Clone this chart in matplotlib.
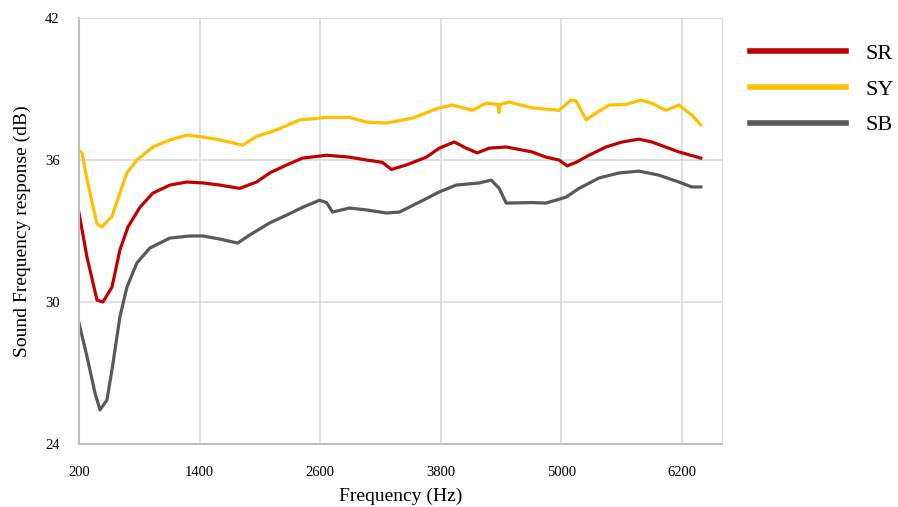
import numpy as np
import matplotlib.pyplot as plt

plt.rcParams['font.family'] = ['Liberation Serif', 'DejaVu Serif']

# frequency (Hz) / level (dB)
sy_f = [200, 230, 279, 330, 379, 428, 478, 528, 558, 607, 677, 776, 935, 1104, 1273, 1432,
        1601, 1829, 1968, 2167, 2395, 2664, 2892, 3061, 3260, 3518, 3786, 3915, 4114, 4253,
        4372, 4382, 4392, 4482, 4710, 4978, 5097, 5147, 5247, 5346, 5475, 5644, 5793, 5902,
        6041, 6171, 6300, 6389]
sy_db = [36.4, 36.3, 35.2, 34.2, 33.3, 33.17, 33.4, 33.6, 34.0, 34.6, 35.45, 36.0, 36.55,
         36.85, 37.05, 36.97, 36.85, 36.63, 37.0, 37.27, 37.69, 37.8, 37.8, 37.6, 37.56,
         37.77, 38.2, 38.32, 38.1, 38.4, 38.35, 38.0, 38.35, 38.45, 38.2, 38.1, 38.53, 38.5,
         37.7, 37.98, 38.32, 38.35, 38.53, 38.4, 38.1, 38.32, 37.9, 37.48]

sr_f = [200, 279, 379, 438, 528, 607, 687, 806, 935, 1104, 1273, 1432, 1601, 1799, 1968,
        2097, 2266, 2425, 2664, 2892, 3061, 3220, 3309, 3458, 3657, 3786, 3935, 4054, 4164,
        4283, 4452, 4710, 4849, 4978, 5058, 5147, 5276, 5445, 5604, 5773, 5902, 6171, 6389]
sr_db = [33.76, 31.9, 30.08, 30.0, 30.63, 32.2, 33.17, 34.0, 34.6, 34.94, 35.07, 35.03,
         34.94, 34.8, 35.07, 35.45, 35.79, 36.08, 36.2, 36.12, 36.0, 35.9, 35.6, 35.79,
         36.12, 36.5, 36.76, 36.5, 36.3, 36.5, 36.55, 36.34, 36.12, 36.0, 35.75, 35.9, 36.2,
         36.55, 36.76, 36.88, 36.76, 36.34, 36.08]

sb_f = [200, 279, 359, 409, 478, 528, 607, 677, 776, 905, 1104, 1303, 1432, 1601, 1779,
        1899, 2097, 2266, 2425, 2594, 2664, 2723, 2892, 3061, 3260, 3389, 3588, 3786, 3955,
        4184, 4303, 4382, 4452, 4710, 4849, 5048, 5177, 5376, 5574, 5773, 5972, 6171, 6300,
        6389]
sb_db = [29.1, 27.7, 26.15, 25.44, 25.86, 27.13, 29.37, 30.63, 31.65, 32.28, 32.7, 32.79,
         32.79, 32.66, 32.49, 32.83, 33.34, 33.67, 34.0, 34.3, 34.2, 33.8, 33.97, 33.89,
         33.76, 33.8, 34.22, 34.65, 34.94, 35.03, 35.15, 34.8, 34.18, 34.2, 34.18, 34.43,
         34.8, 35.24, 35.45, 35.53, 35.36, 35.07, 34.86, 34.86]

x_ticks = [200, 1400, 2600, 3800, 5000, 6200]
y_ticks = [24, 30, 36, 42]

fig = plt.figure(figsize=(8.98, 5.07), dpi=100)
ax = fig.add_axes([0.088, 0.1243, 0.716, 0.8402])

ax.plot(sr_f, sr_db, color='#C00000', lw=2.3, label='SR')
ax.plot(sy_f, sy_db, color='#FFC000', lw=2.3, label='SY')
ax.plot(sb_f, sb_db, color='#595959', lw=2.3, label='SB')

ax.set_xlim(200, 6600)
ax.set_ylim(24, 42)
ax.set_xticks(x_ticks)
ax.set_yticks(y_ticks)
ax.tick_params(length=0, labelsize=10.5, colors='#000000')
ax.tick_params(axis='x', pad=16)
ax.tick_params(axis='y', pad=14)
ax.grid(True, color='#D9D9D9', lw=1.2)
ax.set_axisbelow(True)
for s in ax.spines.values():
    s.set_color('#D9D9D9')
ax.spines['left'].set_color('#BFBFBF')
ax.spines['bottom'].set_color('#BFBFBF')
ax.spines['left'].set_linewidth(1.5)
ax.spines['bottom'].set_linewidth(1.5)

ax.set_xlabel('Frequency (Hz)', fontsize=14, labelpad=6)
ax.set_ylabel('Sound Frequency response (dB)', fontsize=14, labelpad=10)

leg = ax.legend(loc='upper left', bbox_to_anchor=(0.818, 0.945),
                bbox_transform=fig.transFigure, frameon=False, fontsize=16,
                handlelength=4.3, handletextpad=0.9, labelspacing=0.68,
                borderpad=0.2)
for line in leg.get_lines():
    line.set_linewidth(4)

fig.savefig('out.png', dpi=100)
